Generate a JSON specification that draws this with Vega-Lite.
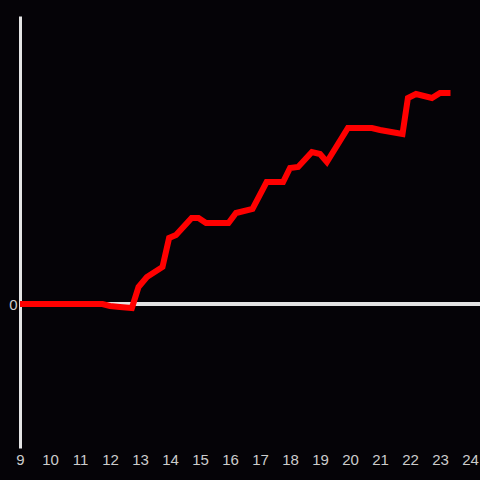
{
  "$schema": "https://vega.github.io/schema/vega-lite/v6.json",
  "width": 460,
  "height": 432,
  "autosize": {"type": "none"},
  "padding": {"left": 20, "top": 16, "right": 0, "bottom": 32},
  "background": "#050307",
  "config": {"view": {"stroke": null}, "font": "Liberation Sans"},
  "data": {"values": [
    {"h": 9.0, "v": 0}, {"h": 9.33, "v": 0}, {"h": 9.67, "v": 0}, {"h": 10.0, "v": 0},
    {"h": 10.33, "v": 0}, {"h": 10.67, "v": 0}, {"h": 11.0, "v": 0}, {"h": 11.33, "v": 0},
    {"h": 11.75, "v": 0}, {"h": 12.0, "v": -2}, {"h": 12.33, "v": -3}, {"h": 12.73, "v": -4},
    {"h": 12.95, "v": 17}, {"h": 13.23, "v": 27}, {"h": 13.75, "v": 37}, {"h": 13.97, "v": 66},
    {"h": 14.2, "v": 69}, {"h": 14.72, "v": 86}, {"h": 14.95, "v": 86}, {"h": 15.2, "v": 81},
    {"h": 15.95, "v": 81}, {"h": 16.2, "v": 91}, {"h": 16.75, "v": 95}, {"h": 17.22, "v": 122},
    {"h": 17.77, "v": 122}, {"h": 18.0, "v": 136}, {"h": 18.27, "v": 137}, {"h": 18.73, "v": 152},
    {"h": 19.0, "v": 150}, {"h": 19.23, "v": 142}, {"h": 19.93, "v": 176}, {"h": 20.73, "v": 176},
    {"h": 21.0, "v": 174}, {"h": 21.75, "v": 170}, {"h": 21.93, "v": 206}, {"h": 22.2, "v": 210},
    {"h": 22.73, "v": 206}, {"h": 23.0, "v": 211}, {"h": 23.35, "v": 211}
  ]},
  "layer": [
    {
      "mark": {"type": "rule", "color": "#e4e4e4", "strokeWidth": 3},
      "encoding": {"y": {"datum": 0, "type": "quantitative"}}
    },
    {
      "mark": {"type": "line", "color": "#ff0000", "strokeWidth": 6, "strokeJoin": "miter", "strokeCap": "butt", "clip": true},
      "encoding": {
        "x": {"field": "h", "type": "quantitative", "scale": {"domain": [9, 24.333], "nice": false, "zero": false},
          "axis": {"values": [9,10,11,12,13,14,15,16,17,18,19,20,21,22,23,24], "title": null, "domain": false, "ticks": false, "grid": false, "labelColor": "#cccccc", "labelFontSize": 15, "labelPadding": 4, "labelFlush": false, "labelOverlap": false}},
        "y": {"field": "v", "type": "quantitative", "scale": {"domain": [-144, 288], "nice": false, "zero": false},
          "axis": {"values": [0], "title": null, "domain": true, "domainColor": "#e4e4e4", "domainWidth": 3, "ticks": false, "grid": false, "labelColor": "#cccccc", "labelFontSize": 15, "labelPadding": 3}}
      }
    }
  ]
}
